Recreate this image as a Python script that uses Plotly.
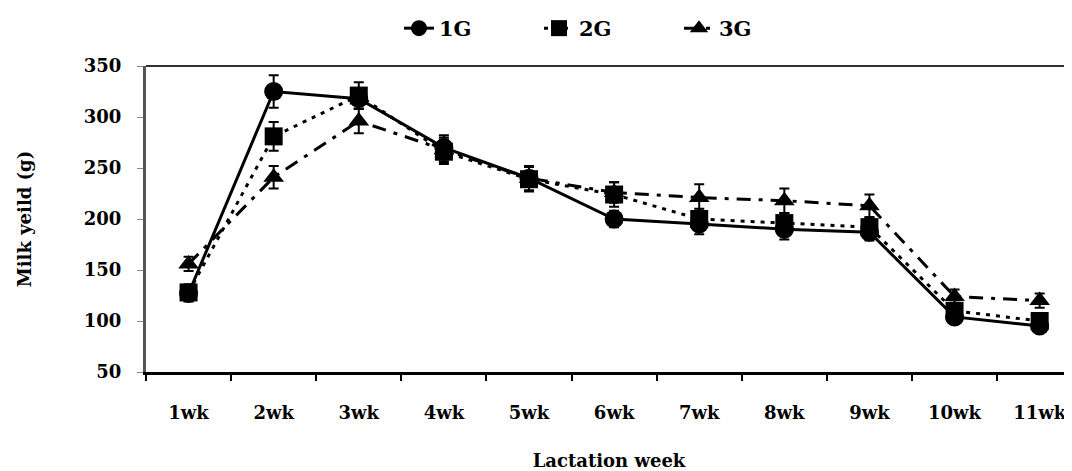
import plotly.graph_objects as go

weeks = ["1wk", "2wk", "3wk", "4wk", "5wk", "6wk", "7wk", "8wk", "9wk", "10wk", "11wk"]
g1 = [127, 325, 318, 270, 240, 200, 195, 190, 187, 104, 95]
g2 = [128, 281, 321, 266, 239, 224, 200, 196, 192, 110, 100]
g3 = [156, 241, 296, 268, 240, 226, 221, 218, 213, 124, 120]
e1 = [8, 16, 10, 12, 12, 8, 10, 10, 8, 7, 6]
e2 = [8, 14, 13, 12, 12, 12, 10, 10, 9, 8, 7]
e3 = [7, 11, 12, 12, 12, 10, 13, 12, 11, 7, 7]
yticks = [50, 100, 150, 200, 250, 300, 350]

FONT = "DejaVu Serif"

fig = go.Figure()
series = [
    ("1G", g1, e1, "solid", "circle", 19),
    ("2G", g2, e2, "4px,6px", "square", 18),
    ("3G", g3, e3, "14px,8px,4px,8px", "triangle-up", 18),
]
for name, vals, errs, dash, sym, size in series:
    fig.add_trace(go.Scatter(
        x=weeks, y=vals, name=f"<b>{name}</b>", mode="lines+markers",
        line=dict(color="black", width=3, dash=dash),
        marker=dict(symbol=sym, size=size, color="black"),
        error_y=dict(type="data", array=errs, visible=True,
                     color="black", thickness=2, width=5),
    ))

fig.update_layout(
    width=1064, height=463,
    margin=dict(l=138, r=0, t=58, b=99, autoexpand=False),
    paper_bgcolor="white", plot_bgcolor="white",
    font=dict(family=FONT, size=18, color="black"),
    showlegend=True,
    legend=dict(orientation="h", x=0.5, xanchor="center", y=1.0, yanchor="top",
                yref="container", font=dict(family=FONT, size=21, color="black"),
                traceorder="normal", bgcolor="rgba(0,0,0,0)",
                entrywidth=95, itemsizing="trace"),
    xaxis=dict(
        type="category", range=[-0.5, 10.38], automargin=False,
        tickvals=weeks, ticktext=[f"<b>{w}</b>" for w in weeks],
        showline=True, linecolor="black", linewidth=3,
        ticks="outside", tickson="boundaries", ticklen=6, tickwidth=2, tickcolor="black",
        showgrid=False, zeroline=False,
        tickfont=dict(family=FONT, size=18, color="black"),
        ticklabelstandoff=22,
        title=dict(text="<b>Lactation week</b>", font=dict(family=FONT, size=18), standoff=36),
    ),
    yaxis=dict(
        range=[50, 350], automargin=False,
        tickvals=yticks, ticktext=[f"<b>{v}</b>" for v in yticks],
        showline=True, linecolor="#555555", linewidth=3,
        ticks="outside", ticklen=6, tickwidth=1, tickcolor="#888888",
        showgrid=False, zeroline=False,
        tickfont=dict(family=FONT, size=18, color="black"),
        ticklabelstandoff=12,
        title=dict(text="<b>Milk yeild (g)</b>", font=dict(family=FONT, size=18), standoff=48),
    ),
)

fig.add_shape(type="line", xref="paper", yref="paper", x0=0, x1=1, y0=1, y1=1,
              line=dict(color="#333333", width=2))

fig.write_html("out.html")
